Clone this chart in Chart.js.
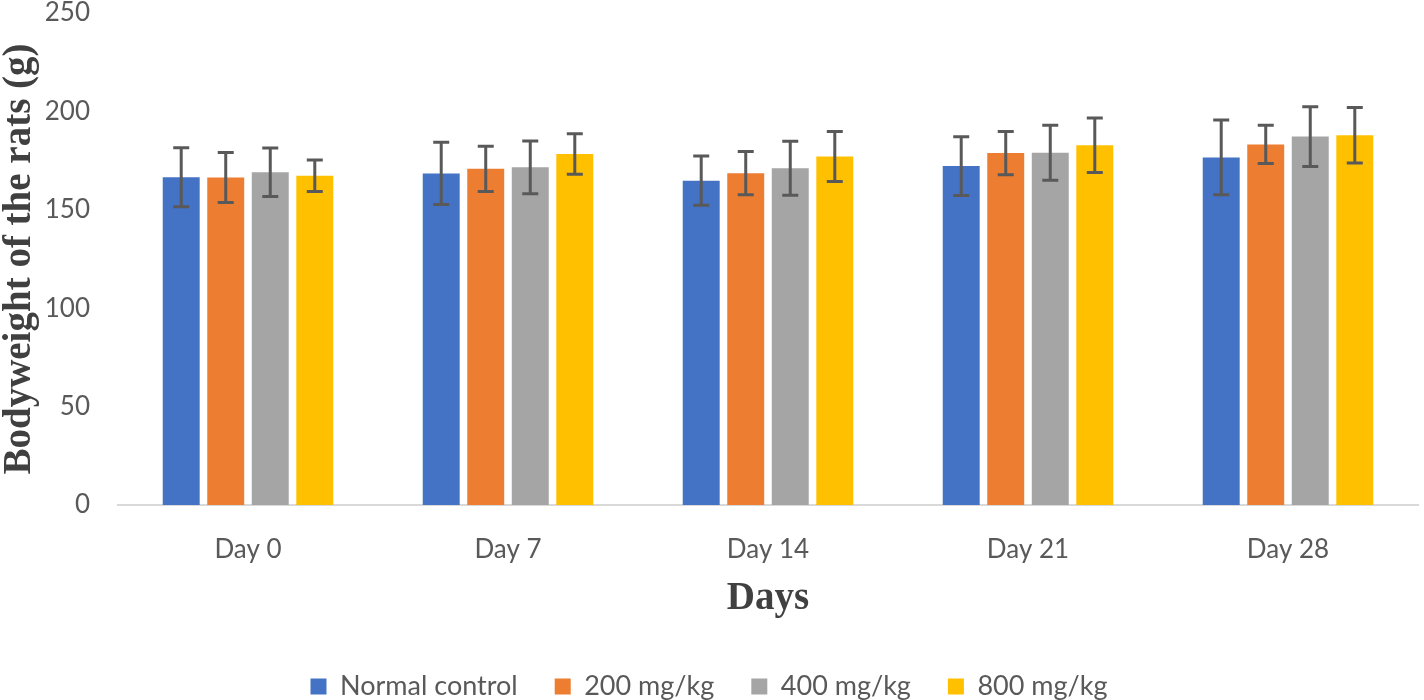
<!DOCTYPE html>
<html>
<head>
<meta charset="utf-8">
<script src="https://cdn.jsdelivr.net/npm/chart.js@4"></script>
<style>
  html, body { margin: 0; padding: 0; background: #fff; }
  #wrap { width: 1424px; height: 700px; }
</style>
</head>
<body>
<div id="wrap"><canvas id="chart"></canvas></div>
<script>
// data
const days = ['Day 0', 'Day 7', 'Day 14', 'Day 21', 'Day 28'];
const normalControl = [166.5, 168.5, 164.8, 172.2, 176.6];
const dose200 = [166.4, 170.8, 168.6, 178.8, 183.2];
const dose400 = [169.1, 171.6, 171.1, 179.0, 187.2];
const dose800 = [167.3, 178.4, 177.1, 182.8, 187.9];
const normalControlErr = [15.0, 15.8, 12.5, 14.9, 19.0];
const dose200Err = [12.7, 11.5, 11.0, 11.0, 9.7];
const dose400Err = [12.3, 13.4, 13.7, 14.0, 15.2];
const dose800Err = [8.0, 10.3, 12.7, 13.9, 14.1];

const textGray = '#595959';
const titleGray = '#404040';

// error bars, drawn from the y scale
const errorBars = {
    id: 'errorBars',
    afterDatasetsDraw(chart) {
        const ctx = chart.ctx;
        const y = chart.scales.y;
        ctx.save();
        ctx.strokeStyle = '#595959';
        ctx.lineWidth = 3;
        chart.data.datasets.forEach((ds, i) => {
            const meta = chart.getDatasetMeta(i);
            meta.data.forEach((bar, j) => {
                const top = y.getPixelForValue(ds.data[j] + ds.errors[j]);
                const bot = y.getPixelForValue(ds.data[j] - ds.errors[j]);
                const cap = 8;
                ctx.beginPath();
                ctx.moveTo(bar.x, top);
                ctx.lineTo(bar.x, bot);
                ctx.moveTo(bar.x - cap, top);
                ctx.lineTo(bar.x + cap, top);
                ctx.moveTo(bar.x - cap, bot);
                ctx.lineTo(bar.x + cap, bot);
                ctx.stroke();
            });
        });
        ctx.restore();
    }
};

const ctx = document.getElementById('chart').getContext('2d');
new Chart(ctx, {
    type: 'bar',
    data: {
        labels: days,
        datasets: [
            { label: 'Normal control', data: normalControl, errors: normalControlErr, backgroundColor: '#4472C4' },
            { label: '200 mg/kg', data: dose200, errors: dose200Err, backgroundColor: '#ED7D31' },
            { label: '400 mg/kg', data: dose400, errors: dose400Err, backgroundColor: '#A5A5A5' },
            { label: '800 mg/kg', data: dose800, errors: dose800Err, backgroundColor: '#FFC000' }
        ]
    },
    options: {
        responsive: true,
        maintainAspectRatio: false,
        animation: false,
        datasets: {
            bar: { categoryPercentage: 0.685, barPercentage: 0.83 }
        },
        layout: { padding: { top: 0, right: 6, bottom: -10, left: 0 } },
        plugins: {
            legend: {
                position: 'bottom',
                labels: {
                    font: { family: 'Lato', size: 27 },
                    color: textGray,
                    boxWidth: 16,
                    boxHeight: 16,
                    padding: 37
                }
            },
            tooltip: { enabled: false }
        },
        scales: {
            x: {
                afterFit: s => { s.height = 131; },
                grid: { display: false, drawTicks: false },
                border: { display: true, color: '#d9d9d9', width: 2 },
                ticks: {
                    font: { family: 'Lato', size: 26 },
                    color: textGray,
                    padding: 29
                },
                title: {
                    display: true,
                    text: 'Days',
                    font: { family: 'Liberation Serif', size: 39, weight: 'bold', lineHeight: 1 },
                    color: titleGray,
                    padding: { top: 0, bottom: 18 }
                }
            },
            y: {
                // fixed width, and no extra room above the 250 label
                afterFit: s => {
                    s.width = 118;
                    s.paddingTop = 13;
                    s.paddingBottom = 13;
                },
                min: 0,
                max: 250,
                grid: { display: false, drawTicks: false },
                border: { display: false },
                ticks: {
                    stepSize: 50,
                    font: { family: 'Lato', size: 26 },
                    color: textGray,
                    padding: 28
                },
                title: {
                    display: true,
                    text: 'Bodyweight of the rats (g)',
                    font: { family: 'Liberation Serif', size: 39, weight: 'bold', lineHeight: 1 },
                    color: titleGray,
                    padding: { top: 0, bottom: 0 }
                }
            }
        }
    },
    plugins: [errorBars]
});
</script>
</body>
</html>
